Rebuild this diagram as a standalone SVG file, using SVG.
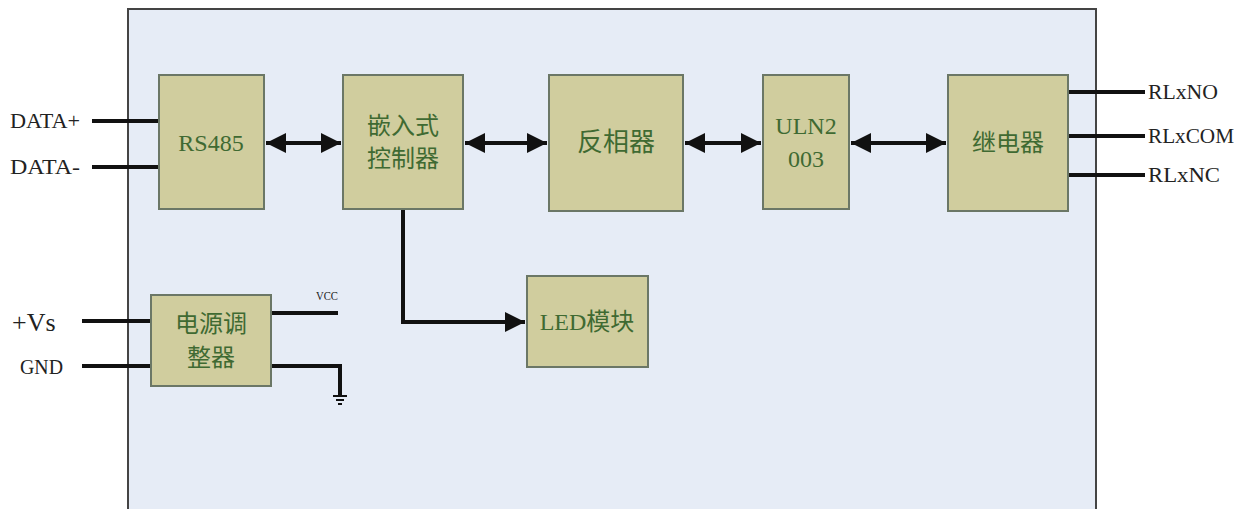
<svg xmlns="http://www.w3.org/2000/svg" width="1244" height="509" viewBox="0 0 1244 509">
<style>
.box{fill:#D0CD9E;stroke:#6B7766;stroke-width:2}
.lbl{font-family:"Liberation Serif","Noto Sans CJK SC",serif;font-size:24px;fill:#3F6A32;text-anchor:middle}
.ext{font-family:"Liberation Serif",serif;font-size:22px;fill:#222;}
.w{stroke:#111;stroke-width:4;fill:none}
</style>
<defs>
<marker id="ah" viewBox="0 0 10 10" refX="10" refY="5" markerWidth="5.5" markerHeight="5" orient="auto-start-reverse" markerUnits="strokeWidth">
<path d="M0,0 L10,5 L0,10 Z" fill="#111"/>
</marker>
</defs>
<rect width="1244" height="509" fill="#fff"/>
<rect id="frame" x="128" y="9" width="968" height="510" fill="#E6ECF6" stroke="#444" stroke-width="2"/>

<g id="connectors">
<line class="w" x1="92" y1="121" x2="160" y2="121"/>
<line class="w" x1="92" y1="167" x2="160" y2="167"/>
<line class="w" x1="1068" y1="92" x2="1145" y2="92"/>
<line class="w" x1="1068" y1="136" x2="1145" y2="136"/>
<line class="w" x1="1068" y1="175" x2="1145" y2="175"/>
<line class="w" x1="82" y1="321" x2="151" y2="321"/>
<line class="w" x1="82" y1="366" x2="151" y2="366"/>
<line class="w" x1="271" y1="313" x2="338" y2="313"/>
<polyline class="w" points="271,366 340,366 340,396" stroke-width="3"/>
<g stroke="#111" stroke-width="2">
<line x1="333" y1="396" x2="347" y2="396"/>
<line x1="336" y1="400" x2="344" y2="400"/>
<line x1="338" y1="404" x2="342" y2="404"/>
</g>
<line class="w" x1="266" y1="143" x2="341" y2="143" marker-start="url(#ah)" marker-end="url(#ah)"/>
<line class="w" x1="465" y1="143" x2="547" y2="143" marker-start="url(#ah)" marker-end="url(#ah)"/>
<line class="w" x1="685" y1="143" x2="761" y2="143" marker-start="url(#ah)" marker-end="url(#ah)"/>
<line class="w" x1="851" y1="143" x2="946" y2="143" marker-start="url(#ah)" marker-end="url(#ah)"/>
<polyline class="w" points="403,209 403,322 525,322" marker-end="url(#ah)"/>
</g>

<g id="rs485"><rect class="box" x="159" y="75" width="105" height="134"/><text class="lbl" x="211" y="151">RS485</text></g>
<g id="mcu"><rect class="box" x="343" y="75" width="120" height="134"/><text class="lbl" x="403" y="134">嵌入式</text><text class="lbl" x="403" y="167">控制器</text></g>
<g id="inv"><rect class="box" x="549" y="75" width="134" height="136"/><text class="lbl" x="616" y="151" style="font-size:26px">反相器</text></g>
<g id="uln"><rect class="box" x="763" y="75" width="86" height="134"/><text class="lbl" x="806" y="134">ULN2</text><text class="lbl" x="806" y="167">003</text></g>
<g id="relay"><rect class="box" x="948" y="75" width="120" height="136"/><text class="lbl" x="1008" y="151">继电器</text></g>
<g id="psu"><rect class="box" x="151" y="295" width="120" height="91"/><text class="lbl" x="211" y="332">电源调</text><text class="lbl" x="211" y="366">整器</text></g>
<g id="led"><rect class="box" x="527" y="276" width="121" height="91"/><text class="lbl" x="587" y="330">LED模块</text></g>

<g id="labels">
<text class="ext" x="10" y="128" textLength="70" lengthAdjust="spacingAndGlyphs">DATA+</text>
<text class="ext" x="10" y="174" textLength="70" lengthAdjust="spacingAndGlyphs">DATA-</text>
<text class="ext" x="1148" y="99" textLength="70" lengthAdjust="spacingAndGlyphs">RLxNO</text>
<text class="ext" x="1148" y="143" textLength="86" lengthAdjust="spacingAndGlyphs">RLxCOM</text>
<text class="ext" x="1148" y="182" textLength="72" lengthAdjust="spacingAndGlyphs">RLxNC</text>
<text class="ext" x="12" y="331" style="font-size:26px">+Vs</text>
<text class="ext" x="20" y="374" textLength="43" lengthAdjust="spacingAndGlyphs">GND</text>
<text class="ext" x="316" y="300" style="font-size:12px" textLength="22" lengthAdjust="spacingAndGlyphs">VCC</text>
</g>
</svg>
